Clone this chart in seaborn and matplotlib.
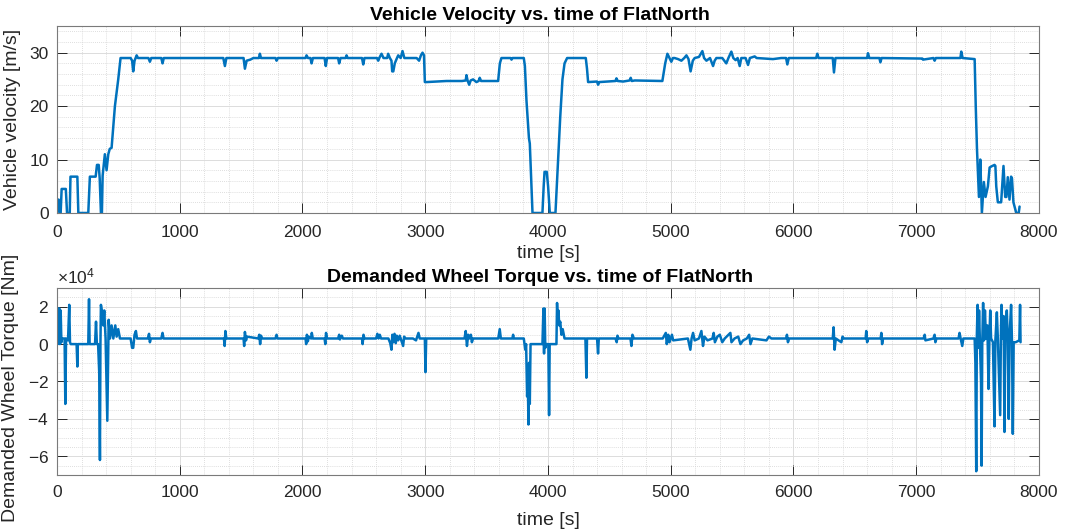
import numpy as np
import pandas as pd
import matplotlib
matplotlib.use("Agg")
import matplotlib.pyplot as plt
from matplotlib.ticker import MultipleLocator
import seaborn as sns

# ---------------------------------------------------------------------------
# Drive cycle "FlatNorth": vehicle speed over time
# ---------------------------------------------------------------------------
vel_time_s = [
    0, 8, 14, 22, 30, 38, 72, 82, 104, 110, 166, 174, 255, 268, 315, 326, 340,
    348, 358, 366, 372, 390, 404, 418, 430, 445, 472, 499, 518, 600, 612, 621,
    632, 649, 660, 745, 757, 768, 850, 860, 870, 1355, 1368, 1380, 1520, 1531,
    1545, 1575, 1600, 1645, 1653, 1662, 1780, 1789, 1800, 2025, 2033, 2045,
    2065, 2074, 2085, 2180, 2190, 2200, 2290, 2299, 2310, 2352, 2359, 2368,
    2485, 2495, 2505, 2607, 2617, 2630, 2644, 2660, 2690, 2698, 2712, 2725,
    2731, 2740, 2752, 2770, 2780, 2800, 2815, 2830, 2848, 2930, 2950, 2965,
    2978, 2990, 2997, 3011, 3100, 3173, 3300, 3330, 3336, 3345, 3358, 3370,
    3390, 3417, 3435, 3444, 3455, 3594, 3608, 3621, 3695, 3703, 3712, 3803,
    3812, 3825, 3845, 3852, 3874, 3955, 3965, 3972, 3990, 4001, 4015, 4061,
    4083, 4100, 4118, 4135, 4156, 4308, 4318, 4327, 4400, 4408, 4418, 4550,
    4558, 4568, 4612, 4665, 4674, 4683, 4707, 4932, 4955, 4973, 4990, 5005,
    5018, 5032, 5060, 5087, 5110, 5128, 5145, 5162, 5180, 5195, 5230, 5258,
    5272, 5291, 5320, 5345, 5358, 5372, 5420, 5453, 5470, 5494, 5510, 5529,
    5545, 5562, 5575, 5610, 5630, 5645, 5684, 5700, 5833, 5900, 5940, 5950,
    5962, 6185, 6194, 6205, 6320, 6330, 6342, 6600, 6607, 6618, 6700, 6708,
    6718, 7050, 7055, 7140, 7150, 7160, 7360, 7367, 7378, 7476, 7485, 7495,
    7511, 7522, 7535, 7551, 7565, 7584, 7598, 7611, 7638, 7645, 7652, 7665,
    7692, 7711, 7725, 7735, 7746, 7760, 7773, 7780, 7792, 7815, 7835, 7842,
]
velocity_ms = [
    0, 2.5, 2.5, 0, 0, 4.5, 4.5, 0, 0, 6.8, 6.8, 0, 0, 6.8, 6.8, 9, 9,
    6.5, 0, 0, 7, 11, 8, 11, 12, 12.2, 20, 25, 29, 29, 28.5, 26.5,
    28.5, 29.5, 29, 29, 28.3, 29, 29, 28, 29, 29, 27.5, 29, 29, 27,
    28.5, 28.7, 29, 29, 29.8, 29, 29, 28.5, 29, 29, 29.5, 29,
    29, 28, 29, 29, 27.5, 29, 29, 28, 29, 29, 29.5, 29,
    29, 27.8, 29, 29, 28.5, 29.2, 29.8, 29, 29, 29.8, 29, 28.5,
    26.5, 26.5, 28, 29, 29.5, 29, 30.3, 29, 29, 29, 28.5, 29.5,
    30, 29.5, 24.5, 24.5, 24.6, 24.7, 24.7, 24.8, 25.8, 24.8, 24, 24.8,
    25, 24.5, 24.7, 25.3, 24.7, 24.7, 28, 29, 29, 28.7, 29, 29,
    27.5, 21, 14, 13, 0, 0, 5, 7.7, 7.7, 5, 0, 0,
    10, 18, 25, 28, 29, 29, 27, 24.5, 24.6, 24, 24.5, 24.7,
    25.2, 24.7, 24.6, 24.8, 25.3, 24.7, 24.8, 24.7, 28, 29.8, 29, 28.3,
    29, 29, 28.8, 28.5, 29, 29.5, 28.8, 26.5, 28.5, 29, 29.2, 30.3,
    29, 28.5, 29, 27.5, 28.5, 29, 29, 28, 29, 30.2, 29, 28.6,
    29, 27.5, 29, 29, 27.7, 29, 29.3, 29, 28.8, 29, 29, 27.8,
    29, 29, 29.8, 29, 29, 26.3, 29, 29, 29.9, 29, 29, 28.2,
    29, 28.9, 28.7, 29, 28.5, 29, 29, 30.2, 29, 28.8, 20, 12,
    3, 10, 0, 5.8, 3, 5, 8.5, 8.7, 9, 8.8, 5, 2,
    2, 8.8, 3, 3, 6.7, 2.5, 6.8, 6.5, 2, 0, 0, 1.2,
]

# ---------------------------------------------------------------------------
# Demanded wheel torque over the same cycle [Nm]
# ---------------------------------------------------------------------------
trq_time_s = [
    0, 3, 7, 11, 15, 19, 24, 30, 36, 40, 52, 62, 68, 74, 90, 100, 106, 112,
    160, 166, 170, 255, 261, 266, 310, 318, 325, 335, 344, 350, 354, 358,
    369, 377, 385, 396, 410, 421, 432, 445, 459, 475, 486, 499, 513, 600,
    612, 621, 632, 643, 652, 740, 750, 757, 765, 850, 860, 868, 1360, 1366,
    1372, 1380, 1520, 1525, 1531, 1540, 1548, 1640, 1648, 1655, 1662, 1670,
    1780, 1789, 1796, 2025, 2030, 2036, 2044, 2052, 2070, 2076, 2084, 2180,
    2186, 2192, 2200, 2290, 2299, 2305, 2320, 2330, 2485, 2490, 2497, 2505,
    2600, 2610, 2620, 2630, 2640, 2700, 2715, 2725, 2732, 2740, 2750, 2760,
    2768, 2780, 2792, 2800, 2820, 2828, 2840, 2900, 2925, 2945, 2955, 2997,
    3002, 3008, 3320, 3330, 3340, 3350, 3360, 3372, 3380, 3390, 3595, 3607,
    3616, 3710, 3716, 3722, 3803, 3815, 3822, 3830, 3836, 3841, 3846, 3852,
    3858, 3955, 3963, 3968, 3973, 3978, 3985, 4003, 4009, 4014, 4069, 4074,
    4080, 4085, 4092, 4100, 4110, 4120, 4135, 4305, 4313, 4318, 4400, 4408,
    4414, 4550, 4560, 4566, 4575, 4672, 4680, 4688, 4700, 4935, 4960, 4968,
    4980, 4990, 5010, 5020, 5140, 5160, 5170, 5182, 5195, 5230, 5250, 5263,
    5275, 5300, 5340, 5350, 5360, 5380, 5400, 5420, 5440, 5486, 5495, 5520,
    5550, 5568, 5590, 5620, 5639, 5650, 5665, 5780, 5800, 5820, 5940, 5947,
    5955, 5965, 6320, 6327, 6335, 6345, 6390, 6400, 6410, 6588, 6593, 6600,
    6610, 6710, 6716, 6722, 6730, 7060, 7069, 7075, 7140, 7150, 7156, 7165,
    7345, 7353, 7362, 7375, 7384, 7462, 7476, 7482, 7489, 7494, 7500, 7506,
    7512, 7520, 7528, 7533, 7538, 7545, 7552, 7560, 7568, 7580, 7589, 7596,
    7603, 7610, 7625, 7638, 7645, 7657, 7665, 7684, 7690, 7695, 7702, 7712,
    7719, 7726, 7738, 7746, 7754, 7760, 7773, 7780, 7787, 7794, 7810, 7840,
    7846, 7850,
]
torque_nm = [
    3000, 17000, 0, 19000, 2000, 19000, 0, 18000, 1000, 3000, 3000, 3000,
    -32000, 3000, 2000, 21000, 1000, 0,
    0, -12000, 0, 0, 24000, 0, 0, 12000, 0, 0, -15000, -62000, 0, 21000,
    16000, 10000, 18000, 3000, -41000, 13000, 3000, 10000, 3000, 10000, 4000,
    8000, 3000, 3000,
    -2000, -2000, 5000, 7000, 3000, 3000, 5500, 1000, 3000, 3000, 6000, 3000,
    3000, -1000,
    7000, 3000, 3000, -1000, 6500, 2000, 4000, 3000, 5000, 0, 4500, 3000,
    3000, 5000, 3000, 3000, 0, 5000, 1500, 4000, 3000, 6000, 3000, 3000,
    0, 6000, 3000, 3000, 5000, 2500, 4500, 3000, 3000, 0, 5000, 3000,
    3000, 5500, 3000, 5000, 3000, 3000, 500, -3000, 5000, 1000, 5500, 500,
    4500, 2000, 4500, 3000, -1000, 4000, 3000, 3000, 2000, 6000, 3000, 3000,
    -15000, 3000, 3000, 7000, -1000, 5000, 3000, 5000, 1000, 3000, 3000, 8000,
    3000, 3000, 5000, 3000, 3000, -3000, 0, -28000, -20000, -43000, -10000,
    -32000,
    0, 0, 19000, -5000, 19000, -2000, 0, 0, -38000, 0, 0, 22000,
    12000, 18000, 10000, 12000, 5000, 8000, 3000, 3000, -18000, 3000, 3000,
    -5000,
    3000, 3000, 1000, 4500, 3000, 3000, -1000, 5000, 3000, 3000, 6000, 0,
    5000, 1000, 5000, 2000, 3000, -3000, 3000, 6000, 2000, 3000, 7000, -1000,
    4000, 2000, 3000, 6000, 1000, 4000, 5000, 1000, 3000, 6000, 1000, 3000,
    4000, 0, 2000, 3000, 5000, 0, 3000, 2000, 4000, 3000, 3000, 5000,
    1000, 3000, 3000, 9000, -3000, 3000, 1000, 4000, 3000, 3000, 7000, 1000,
    3000, 3000, 6000, 0, 3000, 3000, 5000, 2000, 3000, 5000, 1000, 3000,
    3000, 6000, 3000, -1000, 3000, 3000, 3000, -10000, -68000, 5000, 21000,
    -2000,
    18000, 0, -20000, -65000, 0, 22000, 2000, 18000, 3000, 10000, -24000,
    2000,
    18000, 3000, 1000, -44000, 2000, 17000, 3000, -38000, 5000, 21000, 3000,
    15000,
    -47000, 3000, 18000, 3000, -40000, 3000, 21000, 2000, -48000, 1000, 1000,
    2000,
    21000, 1000,
]

TITLE_VEL = "Vehicle Velocity vs. time of FlatNorth"
TITLE_TRQ = "Demanded Wheel Torque vs. time of FlatNorth"
XLABEL = "time [s]"
YLABEL_VEL = "Vehicle velocity [m/s]"
YLABEL_TRQ = "Demanded Wheel Torque [Nm]"

LINE_BLUE = "#0072BD"
TEXT_DARK = "#262626"

sns.set_style("whitegrid")
plt.rcParams["font.family"] = ["Liberation Sans", "DejaVu Sans"]
plt.rcParams["axes.unicode_minus"] = False
plt.rcParams["mathtext.default"] = "regular"

fig = plt.figure(figsize=(10.69, 5.31), dpi=100)
fig.patch.set_facecolor("white")
ax_v = fig.add_axes([0.0533, 0.5989, 0.9186, 0.3522])
ax_t = fig.add_axes([0.0533, 0.1055, 0.9186, 0.3521])

vel_df = pd.DataFrame({"time": vel_time_s, "velocity": velocity_ms})
trq_df = pd.DataFrame({"time": trq_time_s, "torque": torque_nm})

sns.lineplot(data=vel_df, x="time", y="velocity", ax=ax_v, color=LINE_BLUE,
             linewidth=1.8, estimator=None, sort=False)
sns.lineplot(data=trq_df, x="time", y="torque", ax=ax_t, color=LINE_BLUE,
             linewidth=1.8, estimator=None, sort=False)


def style_axes(ax, title, ylabel, ymajor, yminor, tick_pad, xlabel_pad):
    ax.set_facecolor("white")
    ax.set_xlim(0, 8000)
    ax.xaxis.set_major_locator(MultipleLocator(1000))
    ax.xaxis.set_minor_locator(MultipleLocator(200))
    ax.yaxis.set_major_locator(MultipleLocator(ymajor))
    ax.yaxis.set_minor_locator(MultipleLocator(yminor))
    ax.grid(True, which="major", color="#dcdcdc", linewidth=0.7, linestyle="-")
    ax.grid(True, which="minor", color="#d4d4d4", linewidth=0.6, linestyle=(0, (1, 1.5)))
    ax.set_axisbelow(True)
    ax.tick_params(which="major", direction="in", length=7, width=0.7,
                   color=TEXT_DARK, top=True, right=True, bottom=True, left=True,
                   labelsize=12.5, labelcolor=TEXT_DARK, pad=6)
    ax.tick_params(axis="x", which="major", pad=tick_pad)
    ax.tick_params(which="minor", length=0)
    for sp in ax.spines.values():
        sp.set_visible(True)
        sp.set_color("#7a7a7a")
        sp.set_linewidth(0.8)
    ax.set_title(title, fontsize=14, fontweight="bold", color="black", pad=4,
                 x=0.492)
    ax.set_xlabel(XLABEL, fontsize=14, color=TEXT_DARK, labelpad=xlabel_pad)
    ax.set_ylabel(ylabel, fontsize=14, color=TEXT_DARK, labelpad=6)


style_axes(ax_v, TITLE_VEL, YLABEL_VEL, 10, 2, tick_pad=9, xlabel_pad=3)
ax_v.set_ylim(0, 35)

style_axes(ax_t, TITLE_TRQ, YLABEL_TRQ, 20000, 5000, tick_pad=7, xlabel_pad=9)
ax_t.set_ylim(-70000, 30000)
ax_t.yaxis.label.set_y(0.465)
ax_t.ticklabel_format(axis="y", style="sci", scilimits=(4, 4), useMathText=True)
ax_t.yaxis.get_offset_text().set_fontsize(12.5)
ax_t.yaxis.get_offset_text().set_color(TEXT_DARK)

fig.savefig("out.png", dpi=100, facecolor="white")
